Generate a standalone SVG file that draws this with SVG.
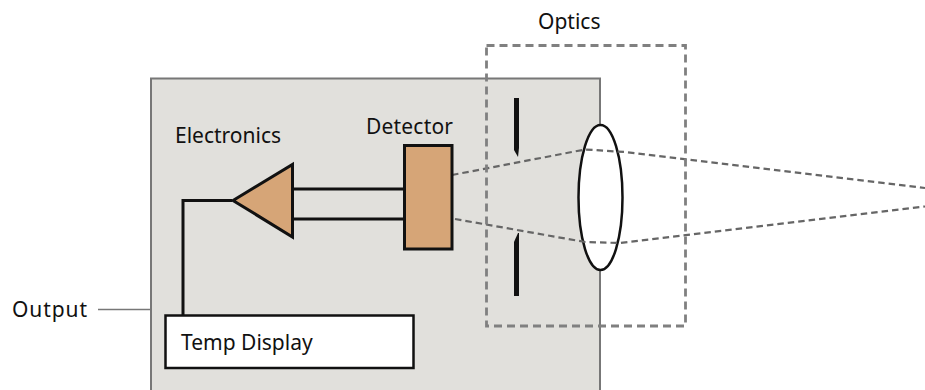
<svg xmlns="http://www.w3.org/2000/svg" width="925" height="390" viewBox="0 0 925 390">
<style>
text{font-family:"Noto Sans","Open Sans",sans-serif;font-size:21px;fill:#111}
.b{stroke:#111;stroke-width:3;fill:none}
.f{fill:#d6a577;stroke:#111;stroke-width:3}
.d{fill:none;stroke:#666;stroke-width:2.200;stroke-dasharray:6.500 4}
.o{fill:none;stroke:#808080;stroke-width:2.800;stroke-dasharray:8 5}
</style>
<rect width="925" height="390" fill="#fff"/>
<g id="housing"><path d="M151 390V78.500H600V390" fill="#e1e0dc" stroke="#777" stroke-width="2"/></g>
<g id="slit"><path d="M514 98h5v50l-1 9l-4-7z" fill="#111"/><path d="M514 296h5v-63l-1 0l-4 9z" fill="#111"/></g>
<g id="lens"><ellipse cx="600.500" cy="197.500" rx="22" ry="72.500" fill="#fff" stroke="#111" stroke-width="2.500"/></g>
<g id="connectors">
<path class="d" d="M452 175L585 149.500L625 152L925 188"/>
<path class="d" d="M455 219L585 242L620 243L925 206.500"/>
<path class="b" d="M293 189H404M293 219H404M232 200.500H183V315"/>
<path d="M98 309.500H151" fill="none" stroke="#777" stroke-width="1.500"/>
</g>
<g id="optics"><rect class="o" x="486.500" y="45.500" width="199" height="280.500"/><text x="538" y="29">Optics</text></g>
<g id="detector"><rect class="f" x="404.500" y="145.500" width="47.500" height="103.500"/><text x="366" y="134" textLength="87">Detector</text></g>
<g id="electronics"><path class="f" d="M233 200.500L292.500 164.500V237Z"/><text x="175" y="143">Electronics</text></g>
<g id="display"><rect x="165.500" y="315.500" width="248" height="52.500" fill="#fff" stroke="#111" stroke-width="2.500"/><text x="181" y="350">Temp Display</text></g>
<g id="output"><text x="12" y="317" textLength="75">Output</text></g>
</svg>
